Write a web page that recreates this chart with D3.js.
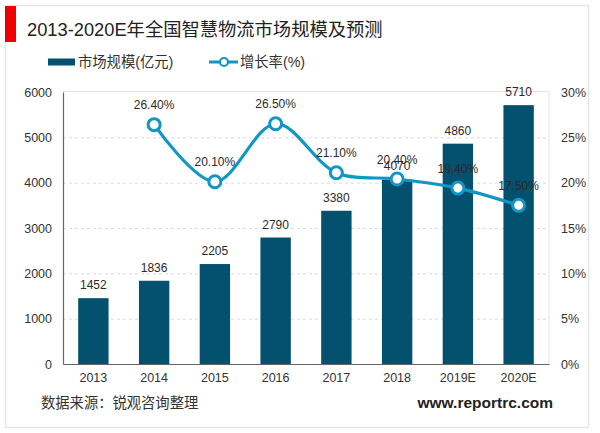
<!DOCTYPE html>
<html><head><meta charset="utf-8">
<script src="https://cdn.jsdelivr.net/npm/d3@7"></script>
<style>html,body{margin:0;padding:0;background:#fff}svg{display:block}text{font-family:"Liberation Sans","Noto Sans CJK SC",sans-serif}</style>
</head><body><div id="c"></div>
<script>
const categories=["2013","2014","2015","2016","2017","2018","2019E","2020E"];
const marketSize=[1452,1836,2205,2790,3380,4070,4860,5710];
const growth=[null,26.4,20.1,26.5,21.1,20.4,19.4,17.5];
const leftTicks=[0,1000,2000,3000,4000,5000,6000];
const rightTicks=[0,5,10,15,20,25,30];
const titleText="2013-2020E年全国智慧物流市场规模及预测";
const sourceText="数据来源：锐观咨询整理";
const siteText="www.reportrc.com";
const W=600,H=433,m={l:63,r:549,t:92,b:364};
const svg=d3.select("#c").append("svg").attr("width",W).attr("height",H);
svg.append("rect").attr("x",5.5).attr("y",5.5).attr("width",583).attr("height",422).attr("fill","#fff").attr("stroke","#e6e6e6").attr("stroke-width",1.5);
svg.append("rect").attr("x",5).attr("y",6).attr("width",11).attr("height",36).attr("fill","#f00000");
svg.append("text").attr("x",27).attr("y",36).attr("font-size",18.3).attr("fill","#222").text(titleText);
const x=d3.scaleBand().domain(categories).range([m.l,m.r]).paddingInner(0.5).paddingOuter(0.25);
const y=d3.scaleLinear().domain([0,6000]).range([m.b,m.t]);
const y2=d3.scaleLinear().domain([0,30]).range([m.b,m.t]);
const cx=d=>x(d)+x.bandwidth()/2;
// grid
svg.append("g").selectAll("line").data(leftTicks.filter(d=>d>0&&d<6000)).join("line")
 .attr("x1",m.l).attr("x2",m.r).attr("y1",d=>y(d)+.5).attr("y2",d=>y(d)+.5)
 .attr("stroke","#d9d9d9").attr("stroke-dasharray","3 3");
svg.append("line").attr("x1",m.l).attr("x2",m.r+.5).attr("y1",y(6000)-.5).attr("y2",y(6000)-.5).attr("stroke","#e2e2e2");
svg.append("line").attr("x1",m.r).attr("x2",m.r).attr("y1",m.t).attr("y2",m.b).attr("stroke","#e2e2e2");
// bars
svg.append("g").selectAll("rect").data(categories).join("rect")
 .attr("x",d=>x(d)).attr("width",x.bandwidth())
 .attr("y",(d,i)=>y(marketSize[i])).attr("height",(d,i)=>y(0)-y(marketSize[i])).attr("fill","#03506f");
// axes
const ga=svg.append("g").attr("transform",`translate(${m.l},0)`).call(d3.axisLeft(y).tickValues(leftTicks).tickFormat(d3.format("d")).tickSize(0).tickPadding(11));
ga.select(".domain").attr("stroke","#666").attr("stroke-width",1.2);
const gr=svg.append("g").attr("transform",`translate(${m.r},0)`).call(d3.axisRight(y2).tickValues(rightTicks).tickSize(0).tickPadding(12).tickFormat(d=>d+"%"));
gr.select(".domain").remove();
const gb=svg.append("g").attr("transform",`translate(0,${m.b})`).call(d3.axisBottom(x).tickSize(0).tickPadding(9));
gb.select(".domain").attr("stroke","#666").attr("stroke-width",1.2);
svg.selectAll(".tick text").attr("font-size",12.5).attr("fill","#333").style("font-family",'"Liberation Sans",sans-serif');
// line
const pts=categories.map((c,i)=>({c,v:growth[i]})).filter(d=>d.v!=null);
const line=d3.line().x(d=>cx(d.c)).y(d=>y2(d.v)).curve(d3.curveCatmullRom.alpha(0.5));
svg.append("path").attr("d",line(pts)).attr("fill","none").attr("stroke","#1296c4").attr("stroke-width",3.2);
svg.append("g").selectAll("circle").data(pts).join("circle").attr("cx",d=>cx(d.c)).attr("cy",d=>y2(d.v)).attr("r",6)
 .attr("fill","#fff").attr("stroke","#1296c4").attr("stroke-width",3);
// labels
svg.append("g").selectAll("text").data(categories).join("text").attr("x",d=>cx(d)).attr("y",(d,i)=>y(marketSize[i])-9)
 .attr("text-anchor","middle").attr("font-size",12).attr("fill","#2a2a2a").text((d,i)=>marketSize[i]);
svg.append("g").selectAll("text").data(pts).join("text").attr("x",d=>cx(d.c)).attr("y",d=>y2(d.v)-15.5)
 .attr("text-anchor","middle").attr("font-size",12).attr("fill","#2a2a2a").text(d=>d.v.toFixed(2)+"%");
// legend
svg.append("rect").attr("x",48).attr("y",58.5).attr("width",27).attr("height",7).attr("fill","#03506f");
svg.append("text").attr("x",78).attr("y",67).attr("font-size",14.3).attr("fill","#333").text("市场规模(亿元)");
svg.append("line").attr("x1",209).attr("x2",238).attr("y1",62).attr("y2",62).attr("stroke","#1296c4").attr("stroke-width",3);
svg.append("circle").attr("cx",224).attr("cy",62).attr("r",4).attr("fill","#fff").attr("stroke","#1296c4").attr("stroke-width",2.2);
svg.append("text").attr("x",240).attr("y",67).attr("font-size",14.3).attr("fill","#333").text("增长率(%)");
// footer
svg.append("text").attr("x",41).attr("y",408).attr("font-size",14.3).attr("fill","#333").text(sourceText);
svg.append("text").attr("x",553).attr("y",408).attr("text-anchor","end").attr("font-size",15.5).attr("font-weight","bold").attr("fill","#222").text(siteText);
</script></body></html>
